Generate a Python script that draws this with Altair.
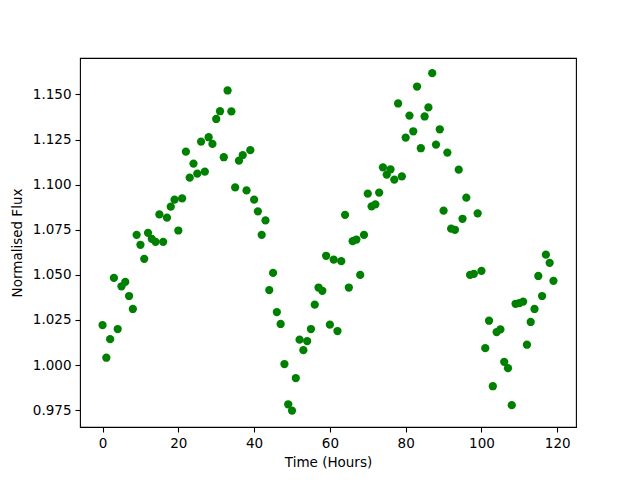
import altair as alt
import pandas as pd

hours = list(range(120))
flux = [
    1.0222, 1.0041, 1.0144, 1.0483, 1.0200, 1.0437, 1.0461, 1.0383, 1.0311, 1.0722,
    1.0667, 1.0589, 1.0733, 1.0700, 1.0683, 1.0835, 1.0683, 1.0817, 1.0878, 1.0917,
    1.0746, 1.0924, 1.1183, 1.1039, 1.1117, 1.1061, 1.1239, 1.1072, 1.1263, 1.1226,
    1.1364, 1.1407, 1.1152, 1.1522, 1.1406, 1.0985, 1.1133, 1.1164, 1.0968, 1.1191,
    1.0917, 1.0852, 1.0722, 1.0802, 1.0416, 1.0511, 1.0294, 1.0228, 1.0006, 0.9783,
    0.9748, 0.9928, 1.0141, 1.0083, 1.0133, 1.0200, 1.0335, 1.0430, 1.0412, 1.0606,
    1.0224, 1.0585, 1.0189, 1.0576, 1.0833, 1.0430, 1.0687, 1.0696, 1.0500, 1.0722,
    1.0950, 1.0880, 1.0891, 1.0956, 1.1096, 1.1056, 1.1085, 1.1028, 1.1450, 1.1046,
    1.1261, 1.1383, 1.1296, 1.1544, 1.1202, 1.1378, 1.1428, 1.1618, 1.1222, 1.1307,
    1.0856, 1.1178, 1.0756, 1.0750, 1.1083, 1.0811, 1.0928, 1.0500, 1.0506, 1.0841,
    1.0522, 1.0094, 1.0246, 0.9883, 1.0183, 1.0198, 1.0018, 0.9983, 0.9778, 1.0340,
    1.0344, 1.0352, 1.0113, 1.0239, 1.0311, 1.0494, 1.0383, 1.0612, 1.0567, 1.0467,
]
x_ticks = [0, 20, 40, 60, 80, 100, 120]
y_ticks = [0.975, 1.000, 1.025, 1.050, 1.075, 1.100, 1.125, 1.150]

df = pd.DataFrame({"t": hours, "f": flux})

font = "DejaVu Sans"
axis_common = dict(
    grid=False,
    domain=False,
    tickColor="black",
    tickSize=5,
    tickWidth=1.1,
    labelFont=font,
    labelFontSize=13.5,
    labelColor="black",
    titleFont=font,
    titleFontSize=13.5,
    titleFontWeight="normal",
    titleColor="black",
    labelPadding=4,
)

chart = (
    alt.Chart(df)
    .mark_circle(size=68, color="green", opacity=1)
    .encode(
        x=alt.X(
            "t:Q",
            scale=alt.Scale(domain=[-5.95, 124.95], nice=False, zero=False),
            axis=alt.Axis(values=x_ticks, title="Time (Hours)", titlePadding=6, **axis_common),
        ),
        y=alt.Y(
            "f:Q",
            scale=alt.Scale(domain=[0.9657, 1.1702], nice=False, zero=False),
            axis=alt.Axis(values=y_ticks, format=".3f", title="Normalised Flux", titlePadding=8, **axis_common),
        ),
    )
    .properties(width=496, height=369)
    .configure_view(stroke="black", strokeWidth=1.1)
    .properties(
        autosize=alt.AutoSizeParams(type="none"),
        padding={"left": 72, "top": 50, "right": 56, "bottom": 45},
    )
)

chart.save("out.html", embed_options={"renderer": "svg", "actions": False})
